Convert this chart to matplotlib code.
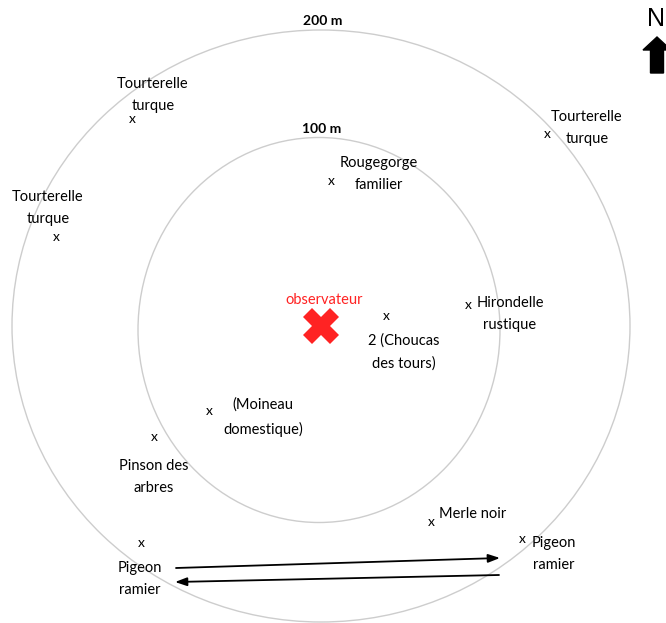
import matplotlib.pyplot as plt
import matplotlib.patches as mpatches

# Observation rings (pixel coords of the sketch, y going down)
observer = (321, 326)
ring_labels = ["200 m", "100 m"]
ring_centers = [(321, 326), (319, 330)]
ring_widths = [618, 362]
ring_heights = [592, 385]
ring_label_pos = [(323, 21), (322, 129)]

# Sightings: where the "x" is, and where its label sits
species = ["Tourterelle\nturque", "Tourterelle\nturque", "Tourterelle\nturque",
           "Rougegorge\nfamilier", "Hirondelle\nrustique", "2 (Choucas\ndes tours)",
           "(Moineau\ndomestique)", "Pinson des\narbres", "Pigeon\nramier",
           "Merle noir", "Pigeon\nramier"]
mark_x = [132, 547, 56, 331, 468, 386, 209, 154, 141, 431, 522]
mark_y = [119, 134, 237, 181, 305, 316, 411, 437, 543, 522, 539]
label_x = [153, 587, 48, 379, 510, 404, 263, 154, 140, 473, 554]
label_y = [95, 128, 208, 174, 314, 352, 417, 477, 579, 514, 554]

# Pigeon movement (left <-> right)
arrow_from = [(176, 568), (499, 575)]
arrow_to = [(500, 558), (175, 582)]

font = ["Lato", "DejaVu Sans"]

fig = plt.figure(figsize=(6.66, 6.23), dpi=100)
ax = fig.add_axes([0, 0, 1, 1])
ax.set_xlim(0, 666)
ax.set_ylim(623, 0)
ax.axis("off")

for c, w, h in zip(ring_centers, ring_widths, ring_heights):
    ax.add_patch(mpatches.Ellipse(c, w, h, fill=False, edgecolor="#cdcdcd", linewidth=1.0))
for lab, (x, y) in zip(ring_labels, ring_label_pos):
    ax.text(x, y, lab, ha="center", va="center", fontsize=10, fontweight="bold", family=font)

for mx, my in zip(mark_x, mark_y):
    ax.text(mx, my, "x", ha="center", va="center", fontsize=10, family=font)
for lab, lx, ly in zip(species, label_x, label_y):
    ax.text(lx, ly, lab, ha="center", va="center", fontsize=10.5, family=font,
            linespacing=1.8)

# observer
ax.plot(*observer, marker="X", markersize=26, color="#ff2323", markeredgewidth=0)
ax.text(observer[0] + 3, 300, "observateur", ha="center", va="center",
        fontsize=10.5, color="#ff2323", family=font)

for (x0, y0), (x1, y1) in zip(arrow_from, arrow_to):
    ax.annotate("", xy=(x1, y1), xytext=(x0, y0),
                arrowprops=dict(arrowstyle="-|>,head_length=0.7,head_width=0.25",
                                color="black", linewidth=1.3, shrinkA=0, shrinkB=0))

# north arrow
ax.text(656, 19, "N", ha="center", va="center", fontsize=18, family=["Liberation Sans"])
ax.add_patch(mpatches.FancyArrow(657, 73, 0, -36, width=13, head_width=28,
                                 head_length=13, length_includes_head=True,
                                 color="black"))

fig.savefig("out.png", dpi=100)
